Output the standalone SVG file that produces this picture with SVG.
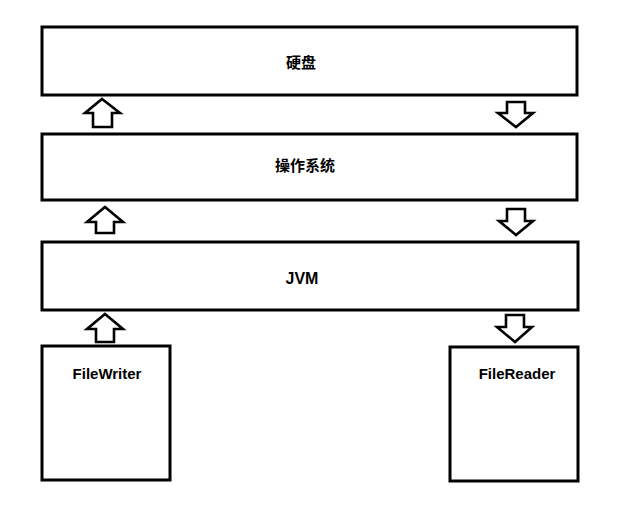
<svg xmlns="http://www.w3.org/2000/svg" width="617" height="509" viewBox="0 0 617 509">
<style>
.box{fill:#fff;stroke:#000;stroke-width:3}
.arr{fill:#fff;stroke:#000;stroke-width:2.6;stroke-linejoin:miter}
.lbl{font-family:"Liberation Sans","Noto Sans CJK SC",sans-serif;font-weight:bold;font-size:15px;fill:#000;text-anchor:middle}
</style>
<rect width="617" height="509" fill="#fff"/>
<g id="disk"><rect class="box" x="42" y="27" width="535" height="68"/><text class="lbl" x="301" y="68">硬盘</text></g>
<g id="os"><rect class="box" x="42" y="134" width="535" height="66"/><text class="lbl" x="305" y="171">操作系统</text></g>
<g id="jvm"><rect class="box" x="42" y="242" width="536" height="68"/><text class="lbl" x="302" y="284" style="font-size:16px">JVM</text></g>
<g id="filewriter"><rect class="box" x="42" y="346" width="128" height="134"/><text class="lbl" x="107" y="379">FileWriter</text></g>
<g id="filereader"><rect class="box" x="450" y="347" width="128" height="134"/><text class="lbl" x="517" y="379">FileReader</text></g>
<g id="connectors">
<polygon class="arr" points="102,99 120,113 112,113 112,127 93,127 93,113 85,113"/>
<polygon class="arr" points="105,207 123,222 114,222 114,233 96,233 96,222 87,222"/>
<polygon class="arr" points="105,314 123,329 114,329 114,342 96,342 96,329 87,329"/>
<polygon class="arr" points="507,102 525,102 525,113 533,113 516,127 498,113 507,113"/>
<polygon class="arr" points="507,209 525,209 525,221 533,221 516,235 499,221 507,221"/>
<polygon class="arr" points="506,315 524,315 524,327 532,327 515,342 497,327 506,327"/>
</g>
</svg>
